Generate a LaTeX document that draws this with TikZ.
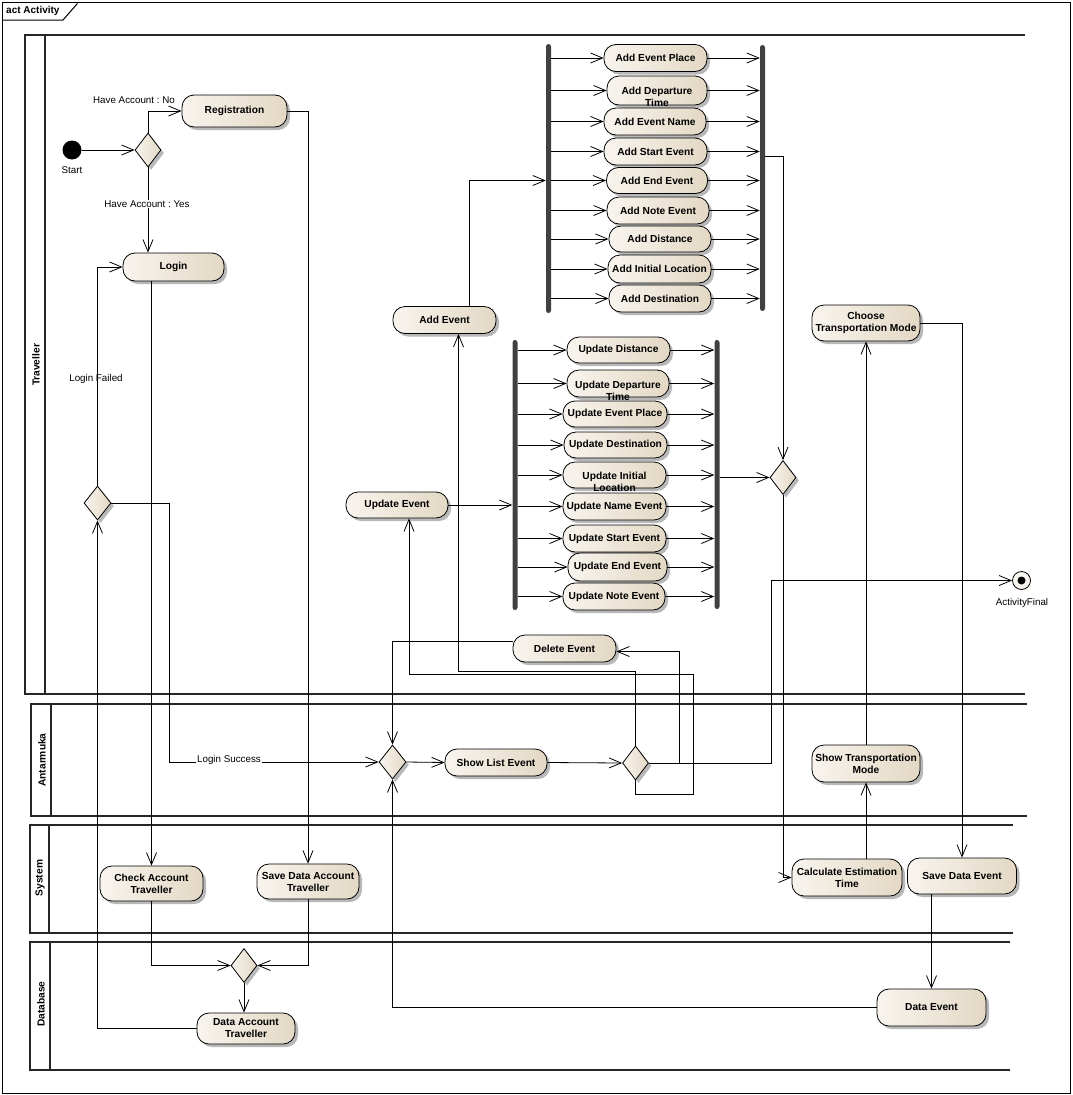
\documentclass[tikz,border=0pt]{standalone}
\usepackage{fontspec}
\setmainfont{Liberation Sans}
\usetikzlibrary{arrows.meta,shapes.geometric,shadows}
\definecolor{actL}{HTML}{F8F4EE}
\definecolor{actR}{HTML}{E3D8C4}
\definecolor{barC}{HTML}{404040}
\frenchspacing
\begin{document}
\begin{tikzpicture}[x=1pt,y=-1pt,
  shad/.style={drop shadow={shadow xshift=3pt,shadow yshift=-3pt,fill=black,opacity=0.28}},
  act/.style={draw=black, line width=0.8pt, rounded corners=12pt, left color=actL, right color=actR,
    shad, inner sep=1pt, align=center, font=\fontsize{10.2}{12}\selectfont\bfseries},
  acttxt/.style={inner sep=0pt, align=center, font=\fontsize{10.2}{12}\selectfont\bfseries},
  sz/.style 2 args={minimum width=#1pt, minimum height=#2pt},
  dec/.style={diamond, draw=black, line width=0.8pt, left color=actL, right color=actR, shad,
    minimum width=26pt, minimum height=34pt, inner sep=0pt},
  bar/.style={rectangle, fill=barC, minimum width=5pt, inner sep=0pt, rounded corners=2.5pt},
  arr/.style={line width=0.8pt, -{Straight Barb[length=12pt,width=10pt,line width=0.8pt]}},
  lbl/.style={inner sep=1pt, font=\fontsize{9.8}{11.5}\selectfont},
  lane/.style={line width=1.3pt, draw=black!85},
  lanelbl/.style={rotate=90, font=\fontsize{10.2}{12}\selectfont\bfseries}
]
\useasboundingbox (0,0) rectangle (1072,1095);

% diagram frame and its name tab
\draw[line width=1pt] (2,2) rectangle (1070,1093);
\draw[line width=1pt] (2,20) -- (63,20) -- (77,4) -- (77,2);
\node[anchor=west, inner sep=0pt, font=\fontsize{10}{12}\selectfont\bfseries] (title) at (6,11) {act Activity};

% swimlanes
\draw[lane] (1025,35) -- (25,35) -- (25,694) -- (1025,694);
\draw[lane] (45,35) -- (45,694);
\draw[lane] (1027,704) -- (31,704) -- (31,816) -- (1027,816);
\draw[lane] (51,704) -- (51,816);
\draw[lane] (1013,825) -- (30,825) -- (30,933) -- (1013,933);
\draw[lane] (49,825) -- (49,933);
\draw[lane] (1010,942) -- (30,942) -- (30,1070) -- (1010,1070);
\draw[lane] (50,942) -- (50,1070);
\node[lanelbl] (lTrav) at (36,365) {Traveller};
\node[lanelbl] (lAnt) at (42,760) {Antarmuka};
\node[lanelbl] (lSys) at (40,878) {System};
\node[lanelbl] (lDb) at (41,1004) {Database};

% start / end
\node[circle, fill=black, minimum size=19pt, inner sep=0pt] (start) at (72,150) {};
\node[lbl] (lStart) at (72,170) {Start};
\node[circle, draw=black, line width=0.8pt, fill=actL, minimum size=18pt, inner sep=0pt,
  path picture={\fill[black] (path picture bounding box.center) circle (4pt);}] (final) at (1021.5,580.5) {};
\node[lbl] (lFinal) at (1022,603) {ActivityFinal};

% decisions
\node[dec] (d1) at (148,150) {};
\node[dec, minimum width=27pt] (dLogin) at (97.5,503) {};
\node[dec, minimum width=27pt] (dMerge) at (392.5,762) {};
\node[dec] (dChoice) at (635.5,763) {};
\node[dec] (dJoin) at (783,477.5) {};
\node[dec] (dDb) at (244,965.5) {};

% traveller actions
\node[act, sz={105}{32}] (reg) at (234.5,111) {Registration};
\node[act, sz={101}{28}] (login) at (173.5,267) {Login};
\node[act, sz={103}{27}] (addEv) at (444.5,320) {Add Event};
\node[act, sz={102}{26}] (updEv) at (397,505) {Update Event};
\node[act, sz={103}{27}] (delEv) at (564.5,648.5) {Delete Event};
\node[act, sz={108}{36}] (choose) at (866,323) {Choose\\Transportation Mode};

% add-event fork and join
\node[bar, minimum height=269pt] (addFork) at (548.5,178.5) {};
\node[bar, minimum height=266pt] (addJoin) at (762.5,178) {};
\node[act, sz={103}{27}] (a1) at (655.5,58) {Add Event Place};
\node[act, sz={100}{29}] (a2) at (657,90.5) {};
\node[acttxt] (a2t) at ([yshift=-6.5pt]a2.center) {Add Departure\\Time};
\node[act, sz={102}{27}] (a3) at (655,121.5) {Add Event Name};
\node[act, sz={103}{27}] (a4) at (655.5,151.5) {Add Start Event};
\node[act, sz={101}{26}] (a5) at (657,180.5) {Add End Event};
\node[act, sz={102}{27}] (a6) at (658,210.5) {Add Note Event};
\node[act, sz={102}{26}] (a7) at (660,239) {Add Distance};
\node[act, sz={103}{28}] (a8) at (659.5,269) {Add Initial Location};
\node[act, sz={102}{27}] (a9) at (660,298.5) {Add Destination};

% update-event fork and join
\node[bar, minimum height=270pt] (updFork) at (515,475) {};
\node[bar, minimum height=269pt] (updJoin) at (717,474.5) {};
\node[act, sz={103}{26}] (u1) at (618.5,350) {Update Distance};
\node[act, sz={102}{27}] (u2) at (618,383.5) {};
\node[acttxt] (u2t) at ([yshift=-7pt]u2.center) {Update Departure\\Time};
\node[act, sz={104}{26}] (u3) at (615,414) {Update Event Place};
\node[act, sz={103}{26}] (u4) at (615.5,445) {Update Destination};
\node[act, sz={103}{26}] (u5) at (614.5,475) {};
\node[acttxt] (u5t) at ([yshift=-6.5pt]u5.center) {Update Initial\\Location};
\node[act, sz={103}{27}] (u6) at (614.5,506.5) {Update Name Event};
\node[act, sz={103}{27}] (u7) at (614.5,538.5) {Update Start Event};
\node[act, sz={99}{28}] (u8) at (617.5,567) {Update End Event};
\node[act, sz={102}{27}] (u9) at (614,596.5) {Update Note Event};

% antarmuka actions
\node[act, sz={102}{27}] (showList) at (496,762.5) {Show List Event};
\node[act, sz={108}{37}] (showTr) at (866,763.5) {Show Transportation\\Mode};

% system actions
\node[act, sz={103}{35}] (chkAcc) at (151.5,883.5) {Check Account\\Traveller};
\node[act, sz={102}{35}] (savAcc) at (308,881.5) {Save Data Account\\Traveller};
\node[act, sz={110}{37}] (calc) at (847,877.5) {Calculate Estimation\\Time};
\node[act, sz={109}{36}] (savEv) at (962,876) {Save Data Event};

% database objects
\node[act, sz={98}{31}] (dataAcc) at (246,1028.5) {Data Account\\Traveller};
\node[act, sz={109}{37}] (dataEv) at (931.5,1007.5) {Data Event};

% account flows
\draw[arr] (start) -- (d1.west);
\draw[arr] (d1.north) |- (reg.west);
\draw[arr] (d1.south) -- (d1.south |- login.north);
\draw[arr] (reg.east) -| (savAcc.north);
\draw[arr] (login.south -| chkAcc.north) -- (chkAcc.north);
\draw[arr] (chkAcc.south) |- (dDb.west);
\draw[arr] (savAcc.south) |- (dDb.east);
\draw[arr] (dDb.south) -- (dDb.south |- dataAcc.north);
\draw[arr] (dataAcc.west) -| (dLogin.south);
\draw[arr] (dLogin.north) |- (login.west);
\draw[arr] (dLogin.east) -- ++(58,0) |- (dMerge.west);

% event menu flows
\draw[arr] (dMerge.east) -- (showList.west);
\draw[arr] (showList.east) -- (dChoice.west);
\draw[arr] (dChoice.south) -- ++(0,14) -| (693,674) -| ([xshift=12pt]updEv.south);
\draw[arr] (dChoice.north) -- ++(0,-74) -| ([xshift=14pt]addEv.south);
\draw[arr] (dChoice.east) -- ++(30,0) |- ([yshift=-3pt]delEv.east);
\draw[arr] (dChoice.east) -- ++(122,0) |- (final.west);
\draw[arr] ([yshift=7pt]delEv.west) -| (dMerge.north);
\draw[arr] (dataEv.west) -| (dMerge.south);

% fork / join flows
\draw[arr] ([xshift=25pt]addEv.north) |- (addFork.west |- a5.west);
\draw[arr] (updEv.east) -- (updFork.west |- updEv.east);
\foreach \n in {a1,a2,a3,a4,a5,a6,a7,a8,a9}{
  \draw[arr] (addFork.east |- \n.west) -- (\n.west);
  \draw[arr] (\n.east) -- (addJoin.west |- \n.east);
}
\foreach \n in {u1,u2,u3,u4,u5,u6,u7,u8,u9}{
  \draw[arr] (updFork.east |- \n.west) -- (\n.west);
  \draw[arr] (\n.east) -- (updJoin.west |- \n.east);
}
\draw[arr] ([yshift=-5pt]addJoin.east |- a4.east) -| (dJoin.north);
\draw[arr] (updJoin.east |- dJoin.west) -- (dJoin.west);

% transport and save flows
\draw[arr] (dJoin.south) |- (calc.west);
\draw[arr] (calc.north -| showTr.south) -- (showTr.south);
\draw[arr] (showTr.north) -- (choose.south);
\draw[arr] (choose.east) -| (savEv.north);
\draw[arr] (dataEv.north |- savEv.south) -- (dataEv.north);

% guard labels
\node[lbl] (gNo) at (134,100) {Have Account : No};
\node[lbl, fill=white] (gYes) at (147,204) {Have Account : Yes};
\node[lbl] (gFail) at (96,379) {Login Failed};
\node[lbl, fill=white] (gOk) at (229,760) {Login Success};
\end{tikzpicture}
\end{document}
